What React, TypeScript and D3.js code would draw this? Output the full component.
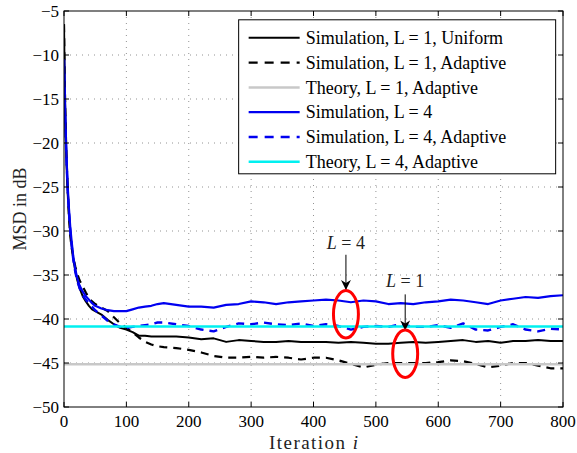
import React, { useEffect, useRef } from "react";
import * as d3 from "d3";

// iteration grid shared by all simulated curves
const iters = [
  0, 1, 2, 3, 4, 5, 6, 8, 10, 12, 15, 18, 21, 25, 30, 35, 40, 45, 50, 60, 70, 80, 90, 100,
  110, 120, 130, 140, 150, 160, 180, 200, 220, 240, 260, 280, 300, 320, 340, 360, 380, 400,
  420, 440, 460, 480, 500, 520, 540, 560, 580, 600, 620, 640, 660, 680, 700, 720, 740, 760,
  780, 800,
];

const simL1Uniform = [
  -6.5, -12, -16.5, -19.5, -22, -24, -25.5, -28, -30, -31.5, -33.2, -34.5, -35.5, -36.5,
  -37.4, -38, -38.5, -38.9, -39.1, -39.5, -40.1, -40.6, -41.0, -41.2, -41.5, -41.9, -41.9,
  -42.0, -42.0, -42.0, -42.0, -42.1, -42.3, -42.2, -42.6, -42.4, -42.5, -42.6, -42.6, -42.5,
  -42.6, -42.6, -42.6, -42.7, -42.6, -42.7, -42.8, -42.8, -42.7, -42.6, -42.7, -42.6, -42.5,
  -42.4, -42.6, -42.5, -42.7, -42.5, -42.5, -42.4, -42.5, -42.5,
];

const simL1Adaptive = [
  -6.5, -12, -16, -19, -21.5, -23.5, -25.5, -28.5, -30.5, -31.8, -33, -34, -34.8, -35.6,
  -36.3, -37, -37.6, -38.0, -38.3, -38.7, -39.1, -39.8, -40.5, -41.0, -41.5, -42.1, -42.6,
  -42.9, -43.1, -43.2, -43.3, -43.5, -43.8, -44.2, -44.4, -44.4, -44.3, -44.4, -44.3, -44.4,
  -44.6, -44.4, -44.4, -44.7, -45.1, -45.5, -45.2, -45.0, -45.0, -45.0, -45.0, -44.9, -44.7,
  -44.8, -45.1, -45.5, -45.3, -45.0, -45.0, -45.3, -45.6, -45.6,
];

const simL4 = [
  -10.5, -14, -17, -19.5, -21.5, -23.3, -25, -27.5, -29.5, -31, -33, -34.3, -35.3, -36.2,
  -36.9, -37.4, -37.8, -38.2, -38.5, -38.8, -39.0, -39.1, -39.1, -39.1, -38.9, -38.7, -38.6,
  -38.5, -38.3, -38.2, -38.4, -38.6, -38.6, -38.7, -38.4, -38.3, -38.0, -38.1, -38.3, -38.1,
  -38.0, -37.9, -37.8, -37.9, -38.1, -37.9, -38.0, -38.3, -38.2, -38.3, -38.1, -38.0, -37.8,
  -37.9, -38.1, -38.3, -37.9, -37.7, -37.5, -37.6, -37.4, -37.3,
];

const simL4Adaptive = [
  -10.5, -14.2, -17.3, -19.8, -22, -23.8, -25.5, -28, -30, -31.5, -33.3, -34.6, -35.6, -36.5,
  -37.3, -37.8, -38.2, -38.6, -39.0, -39.6, -40.2, -40.6, -40.9, -41.0, -40.9, -40.8, -40.7,
  -40.6, -40.4, -40.4, -40.6, -40.8, -41.2, -41.4, -40.9, -40.5, -40.6, -40.4, -40.6, -40.7,
  -40.5, -40.8, -40.6, -40.8, -41.2, -40.9, -40.8, -40.9, -40.6, -40.9, -40.9, -40.7, -41.0,
  -40.5, -41.2, -41.3, -40.9, -40.6, -41.2, -41.4, -41.1, -41.2,
];

// steady-state theory levels
const theoryL1 = -45.15;
const theoryL4 = -40.85;

const xTicks = [0, 100, 200, 300, 400, 500, 600, 700, 800];
const yTicks = [-5, -10, -15, -20, -25, -30, -35, -40, -45, -50];

const legendLabels = [
  "Simulation, L = 1, Uniform",
  "Simulation, L = 1, Adaptive",
  "Theory, L = 1, Adaptive",
  "Simulation, L = 4",
  "Simulation, L = 4, Adaptive",
  "Theory, L = 4, Adaptive",
];

const App = () => {
  const svgRef = useRef(null);

  useEffect(() => {
    const width = 577;
    const height = 453;
    const margin = { top: 11, right: 14, bottom: 46, left: 64 };
    const w = width - margin.left - margin.right;
    const h = height - margin.top - margin.bottom;
    const font = "Liberation Serif, Times New Roman, Tinos, DejaVu Serif, Noto Serif, serif";

    const xScale = d3.scaleLinear().domain([0, 800]).range([0, w]);
    const yScale = d3.scaleLinear().domain([-50, -5]).range([h, 0]);

    const root = d3.select(svgRef.current);
    root.selectAll("*").remove();
    root.attr("width", width).attr("height", height).attr("font-family", font);

    root.append("rect").attr("width", width).attr("height", height).attr("fill", "#fff");

    const svg = root.append("g").attr("transform", `translate(${margin.left},${margin.top})`);

    // clip for lines
    svg
      .append("clipPath")
      .attr("id", "plot-clip")
      .append("rect")
      .attr("width", w)
      .attr("height", h);

    // dotted grid
    const grid = svg.append("g").attr("stroke", "#777").attr("stroke-width", 0.8).attr("stroke-dasharray", "1,5");
    xTicks.slice(1, -1).forEach((t) => {
      grid.append("line").attr("x1", xScale(t)).attr("x2", xScale(t)).attr("y1", 0).attr("y2", h);
    });
    yTicks.slice(1, -1).forEach((t) => {
      grid.append("line").attr("x1", 0).attr("x2", w).attr("y1", yScale(t)).attr("y2", yScale(t));
    });

    const series = [
      { label: legendLabels[0], values: simL1Uniform, color: "#000", dash: null, width: 2 },
      { label: legendLabels[1], values: simL1Adaptive, color: "#000", dash: "8,6", width: 2.2 },
      { label: legendLabels[2], values: iters.map(() => theoryL1), color: "#c8c8c8", dash: null, width: 2.5 },
      { label: legendLabels[3], values: simL4, color: "#0000f0", dash: null, width: 2.2 },
      { label: legendLabels[4], values: simL4Adaptive, color: "#0000f0", dash: "8,6", width: 2.4 },
      { label: legendLabels[5], values: iters.map(() => theoryL4), color: "#00f0f0", dash: null, width: 2.5 },
    ];

    const line = d3
      .line<number>()
      .x((_, i) => xScale(iters[i]))
      .y((d) => yScale(d));

    const lines = svg.append("g").attr("clip-path", "url(#plot-clip)");
    series.forEach((s) => {
      lines
        .append("path")
        .attr("d", line(s.values))
        .attr("fill", "none")
        .attr("stroke", s.color)
        .attr("stroke-width", s.width)
        .attr("stroke-dasharray", s.dash)
        .attr("stroke-linejoin", "round");
    });

    // axes box with inward ticks on all sides
    svg.append("rect").attr("width", w).attr("height", h).attr("fill", "none").attr("stroke", "#000").attr("stroke-width", 1);
    const ticks = svg.append("g").attr("stroke", "#000").attr("stroke-width", 1);
    const tl = 5;
    xTicks.forEach((t) => {
      ticks.append("line").attr("x1", xScale(t)).attr("x2", xScale(t)).attr("y1", h).attr("y2", h - tl);
      ticks.append("line").attr("x1", xScale(t)).attr("x2", xScale(t)).attr("y1", 0).attr("y2", tl);
    });
    yTicks.forEach((t) => {
      ticks.append("line").attr("x1", 0).attr("x2", tl).attr("y1", yScale(t)).attr("y2", yScale(t));
      ticks.append("line").attr("x1", w).attr("x2", w - tl).attr("y1", yScale(t)).attr("y2", yScale(t));
    });

    // tick labels
    xTicks.forEach((t) => {
      svg
        .append("text")
        .attr("x", xScale(t))
        .attr("y", h + 20)
        .attr("text-anchor", "middle")
        .attr("font-size", 17)
        .text(d3.format("d")(t));
    });
    yTicks.forEach((t) => {
      svg
        .append("text")
        .attr("x", -5)
        .attr("y", yScale(t))
        .attr("dy", "0.35em")
        .attr("text-anchor", "end")
        .attr("font-size", 17)
        .text(`\u2212${Math.abs(t)}`);
    });

    // axis labels
    const xl = svg
      .append("text")
      .attr("x", w / 2)
      .attr("y", h + 42)
      .attr("text-anchor", "middle")
      .attr("font-size", 19)
      .attr("textLength", 89)
      .attr("lengthAdjust", "spacing")
      .attr("fill", "#222");
    xl.append("tspan").text("Iteration ");
    xl.append("tspan").attr("font-style", "italic").text("i");

    svg
      .append("text")
      .attr("transform", "rotate(-90)")
      .attr("x", -(yScale(-27.5)))
      .attr("y", -38)
      .attr("text-anchor", "middle")
      .attr("font-size", 18)
      .attr("fill", "#222")
      .text("MSD in dB");

    // legend
    const lg = svg.append("g").attr("transform", `translate(${xScale(280)},${yScale(-6)})`);
    lg.append("rect").attr("width", 317).attr("height", 154).attr("fill", "#fff").attr("stroke", "#000").attr("stroke-width", 1);
    series.forEach((s, i) => {
      const yy = 18 + i * 24.8;
      lg.append("line")
        .attr("x1", 10)
        .attr("x2", 61)
        .attr("y1", yy)
        .attr("y2", yy)
        .attr("stroke", s.color)
        .attr("stroke-width", s.width)
        .attr("stroke-dasharray", s.dash ? "9,7" : null);
      lg.append("text")
        .attr("x", 67)
        .attr("y", yy)
        .attr("dy", "0.35em")
        .attr("font-size", 18)
        .text(s.label);
    });

    // annotations: arrows + red ellipses
    const annotations = [
      { label: "4", textIter: 452, textVal: -32.0, fromVal: -32.7, toVal: -36.7, cIter: 452, cVal: -39.45 },
      { label: "1", textIter: 547, textVal: -36.4, fromVal: -37.2, toVal: -41.3, cIter: 547, cVal: -43.95 },
    ];
    svg
      .append("defs")
      .append("marker")
      .attr("id", "arrow-head")
      .attr("viewBox", "0 0 10 10")
      .attr("refX", 10)
      .attr("refY", 5)
      .attr("markerWidth", 10)
      .attr("markerHeight", 10)
      .attr("markerUnits", "userSpaceOnUse")
      .attr("orient", "auto")
      .append("path")
      .attr("d", "M0,0 L10,5 L0,10 L3,5 Z")
      .attr("fill", "#000");

    const rx = xScale(20) - xScale(0);
    const ry = yScale(-50) - yScale(-47.3);

    annotations.forEach((a) => {
      const tx = svg
        .append("text")
        .attr("x", xScale(a.textIter))
        .attr("y", yScale(a.textVal))
        .attr("text-anchor", "middle")
        .attr("font-size", 18)
        .attr("fill", "#222");
      tx.append("tspan").attr("font-style", "italic").text("L");
      tx.append("tspan").text(` = ${a.label}`);

      svg
        .append("line")
        .attr("x1", xScale(a.textIter))
        .attr("x2", xScale(a.textIter))
        .attr("y1", yScale(a.fromVal))
        .attr("y2", yScale(a.toVal))
        .attr("stroke", "#000")
        .attr("stroke-width", 1)
        .attr("marker-end", "url(#arrow-head)");

      svg
        .append("ellipse")
        .attr("cx", xScale(a.cIter))
        .attr("cy", yScale(a.cVal))
        .attr("rx", rx)
        .attr("ry", ry)
        .attr("fill", "none")
        .attr("stroke", "#ff0000")
        .attr("stroke-width", 3);
    });
  }, []);

  return (
    <div style={{ position: "absolute", left: 0, top: 0 }}>
      <svg ref={svgRef}></svg>
    </div>
  );
};

export default App;
